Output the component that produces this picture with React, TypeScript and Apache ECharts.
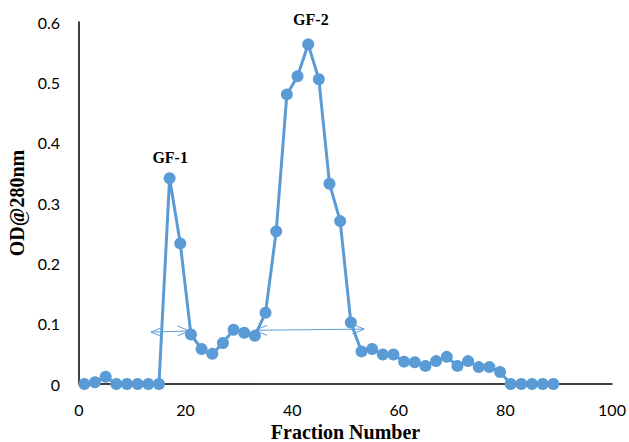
import React, { useEffect, useRef } from "react";
import * as echarts from "echarts";

const fractions = [1,3,5,7,9,11,13,15,17,19,21,23,25,27,29,31,33,35,37,39,41,43,45,47,49,51,53,55,57,59,61,63,65,67,69,71,73,75,77,79,81,83,85,87,89];
const od = [0,0.003,0.012,0,0,0,0,0,0.341,0.233,0.082,0.058,0.05,0.068,0.09,0.085,0.08,0.118,0.253,0.48,0.51,0.563,0.505,0.332,0.27,0.102,0.054,0.058,0.049,0.049,0.037,0.036,0.03,0.038,0.045,0.03,0.038,0.028,0.028,0.02,0,0,0,0,0];
const xTicks = [0, 20, 40, 60, 80, 100];
const yTicks = [0, 0.1, 0.2, 0.3, 0.4, 0.5, 0.6];
// arrows: [x1, y1, x2, y2] in data units
const arrows = [
  [13.5, 0.086, 20.7, 0.088],
  [33.0, 0.089, 53.5, 0.091],
];
const peakLabels = [
  { text: "GF-1", x: 17.1, y: 0.375 },
  { text: "GF-2", x: 43.5, y: 0.604 },
];

const BLUE = "#5B9BD5";

export default function App() {
  const ref = useRef<HTMLDivElement>(null);
  useEffect(() => {
    document.body.style.margin = "0";
    const chart = echarts.init(ref.current!, undefined, { renderer: "svg" });
    chart.setOption({
      animation: false,
      grid: { left: 79, right: 17, top: 22, bottom: 58, outerBoundsMode: "none", containLabel: false },
      xAxis: {
        type: "value",
        min: xTicks[0],
        max: xTicks[xTicks.length - 1],
        interval: 20,
        axisLine: { lineStyle: { color: "#000", width: 1.5 } },
        axisTick: { show: false },
        splitLine: { show: false },
        axisLabel: { fontFamily: "Lato", fontSize: 16, color: "#000", margin: 17 },
        name: "Fraction Number",
        nameLocation: "middle",
        nameGap: 36,
        nameTextStyle: { fontFamily: "Liberation Serif", fontWeight: "bold", fontSize: 20, color: "#000" },
      },
      yAxis: {
        type: "value",
        min: yTicks[0],
        max: yTicks[yTicks.length - 1],
        interval: 0.1,
        axisLine: { show: true, lineStyle: { color: "#000", width: 1.5 } },
        axisTick: { show: false },
        splitLine: { show: false },
        axisLabel: {
          fontFamily: "Lato",
          fontSize: 16,
          color: "#000",
          margin: 19,
          formatter: (v: number) => (v === 0 ? "0" : String(Math.round(v * 10) / 10)),
        },
        name: "OD@280nm",
        nameLocation: "middle",
        nameGap: 51,
        nameRotate: 90,
        nameTextStyle: { fontFamily: "Liberation Serif", fontWeight: "bold", fontSize: 20, color: "#000" },
      },
      series: [
        {
          type: "line",
          data: fractions.map((f, i) => [f, od[i]]),
          symbol: "circle",
          symbolSize: 12,
          lineStyle: { color: BLUE, width: 3 },
          itemStyle: { color: BLUE },
          z: 3,
        },
      ],
    });

    const graphics: any[] = [];
    arrows.forEach(([x1, y1, x2, y2]) => {
      const p1 = chart.convertToPixel({ gridIndex: 0 }, [x1, y1]) as number[];
      const p2 = chart.convertToPixel({ gridIndex: 0 }, [x2, y2]) as number[];
      const style = { stroke: BLUE, lineWidth: 1, fill: null };
      graphics.push({ type: "line", shape: { x1: p1[0], y1: p1[1], x2: p2[0], y2: p2[1] }, style, z: 10 });
      const L = 12, W = 5;
      graphics.push({
        type: "polyline",
        shape: { points: [[p1[0] + L, p1[1] - W], [p1[0], p1[1]], [p1[0] + L, p1[1] + W]] },
        style,
        z: 10,
      });
      graphics.push({
        type: "polyline",
        shape: { points: [[p2[0] - L, p2[1] - W], [p2[0], p2[1]], [p2[0] - L, p2[1] + W]] },
        style,
        z: 10,
      });
    });
    peakLabels.forEach((l) => {
      const p = chart.convertToPixel({ gridIndex: 0 }, [l.x, l.y]) as number[];
      graphics.push({
        type: "text",
        x: p[0],
        y: p[1],
        style: {
          text: l.text,
          fontFamily: "Liberation Serif",
          fontWeight: "bold",
          fontSize: 16,
          fill: "#000",
          align: "center",
          verticalAlign: "middle",
        },
        z: 10,
      });
    });
    chart.setOption({ graphic: graphics });

    return () => chart.dispose();
  }, []);
  return <div ref={ref} style={{ width: 629, height: 442 }} />;
}
